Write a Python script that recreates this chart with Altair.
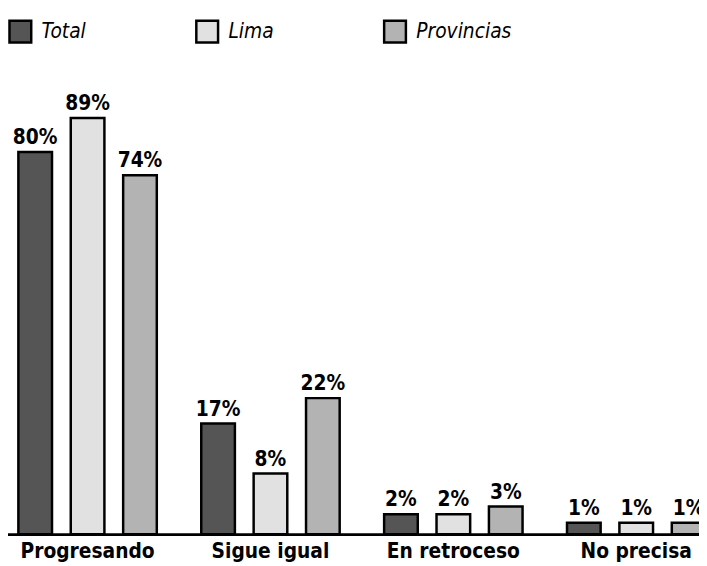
import altair as alt
import pandas as pd

categories = ["Progresando", "Sigue igual", "En retroceso", "No precisa"]
series = ["Total", "Lima", "Provincias"]
total = [80, 17, 2, 1]
lima = [89, 8, 2, 1]
provincias = [74, 22, 3, 1]
colors = ["#555555", "#e1e1e1", "#b3b3b3"]

rows = []
for i, c in enumerate(categories):
    for s, vals in zip(series, [total, lima, provincias]):
        rows.append({"cat": c, "serie": s, "valor": vals[i], "label": f"{vals[i]}%"})
df = pd.DataFrame(rows)

FONT = "Liberation Sans Narrow, DejaVu Sans Condensed, Arial Narrow, sans-serif"

x = alt.X(
    "cat:N",
    sort=categories,
    scale=alt.Scale(range=[-12, 728], paddingInner=0.1405, paddingOuter=0.0703),
    axis=alt.Axis(
        title=None, labelAngle=0, ticks=False, domainWidth=3, domainColor="black",
        labelFont=FONT, labelFontSize=21, labelFontWeight="bold", labelColor="black",
        labelPadding=7, grid=False,
    ),
)
xo = alt.XOffset("serie:N", sort=series, scale=alt.Scale(paddingInner=0.358, paddingOuter=0.179))
y = alt.Y("valor:Q", scale=alt.Scale(type="pow", exponent=0.8, domain=[0, 100], nice=False), axis=None)

bars = alt.Chart(df).mark_bar(stroke="black", strokeWidth=2.5).encode(
    x=x,
    xOffset=xo,
    y=y,
    color=alt.Color(
        "serie:N",
        sort=series,
        scale=alt.Scale(domain=series, range=colors),
        legend=alt.Legend(
            orient="none", legendX=0, legendY=-59, direction="horizontal", title=None,
            symbolType="square", symbolSize=484, symbolStrokeWidth=2.5,
            symbolStrokeColor="black", symbolOpacity=1,
            labelFont=FONT, labelFontSize=21, labelFontStyle="italic", labelColor="black",
            columnPadding=106, labelOffset=9,
        ),
    ),
)

texts = alt.Chart(df).mark_text(
    baseline="bottom", dy=-4, font=FONT, fontSize=21, fontWeight="bold", color="black"
).encode(x=x, xOffset=xo, y=y, text="label:N")

chart = (bars + texts).properties(
    width=699, height=462, autosize="none",
    padding={"left": 0, "top": 67, "right": 0, "bottom": 29},
).configure_view(stroke=None)

chart.save("out.html", embed_options={"renderer": "svg", "actions": False})
